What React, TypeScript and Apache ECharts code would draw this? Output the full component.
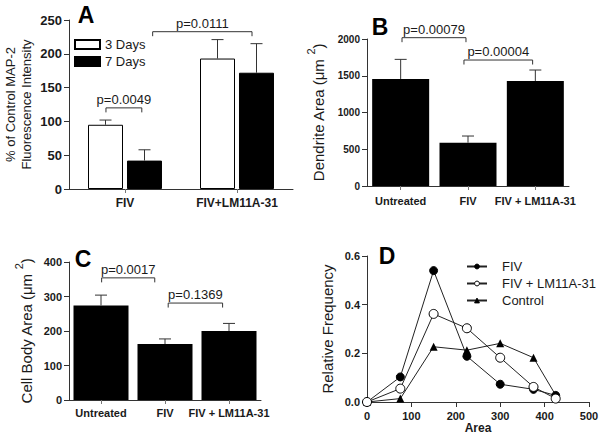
import React, { useEffect, useRef } from 'react';
import * as echarts from 'echarts';

const FONT = "'Liberation Sans', Arial, Helvetica, sans-serif";

// ---------- Panel A ----------
const categoriesA = ['FIV', 'FIV+LM11A-31'];
const days3 = [95, 193];
const days3Sem = [7, 28];
const days7 = [42, 172];
const days7Sem = [16, 43];
const yTicksA = [0, 50, 100, 150, 200, 250];
const pLabelsA = ['p=0.0049', 'p=0.0111'];

// ---------- Panel B ----------
const categoriesBC = ['Untreated', 'FIV', 'FIV + LM11A-31'];
const dendriteArea = [1456, 589, 1429];
const dendriteSem = [267, 91, 149];
const yTicksB = [0, 500, 1000, 1500, 2000];
const pLabelsB = ['p=0.00079', 'p=0.00004'];

// ---------- Panel C ----------
const cellBodyArea = [274, 162, 200];
const cellBodySem = [30, 15, 22];
const yTicksC = [0, 100, 200, 300, 400];
const pLabelsC = ['p=0.0017', 'p=0.1369'];

// ---------- Panel D ----------
const areaBins = [0, 75, 150, 225, 300, 375, 425];
const freqFIV = [0, 0.103, 0.54, 0.188, 0.073, 0.052, 0.027];
const freqFIVLM = [0, 0.055, 0.362, 0.303, 0.182, 0.062, 0.014];
const freqControl = [0, 0.014, 0.227, 0.213, 0.241, 0.182, 0.028];
const xTicksD = [0, 100, 200, 300, 400, 500];
const yTicksD = [0, 0.2, 0.4, 0.6];

// bracket geometry (fractional category positions, y in data units)
const bracketGeomA = [
  { x1: -0.17, x2: 0.15, y: 120 },
  { x1: 0.247, x2: 1.134, y: 232.7 },
];
const bracketGeomB = [
  { x1: 0.02, x2: 0.97, y: 2018 },
  { x1: 0.94, x2: 1.96, y: 1714 },
];
const bracketGeomC = [
  { x1: 0.01, x2: 0.84, y: 354 },
  { x1: 1.05, x2: 1.9, y: 281 },
];

const AXIS_COLOR = '#333';
const TEXT_COLOR = '#1a1a1a';

function valueAxis(gridIndex: number, ticks: number[], fontSize: number, formatter?: (v: number) => string) {
  return {
    type: 'value',
    gridIndex,
    min: ticks[0],
    max: ticks[ticks.length - 1],
    interval: ticks[1] - ticks[0],
    splitLine: { show: false },
    axisLine: { show: true, onZero: false, lineStyle: { color: AXIS_COLOR, width: 1 } },
    axisTick: { show: true, length: 5, lineStyle: { color: AXIS_COLOR, width: 1 } },
    axisLabel: {
      fontFamily: FONT,
      fontWeight: 'bold',
      fontSize,
      color: TEXT_COLOR,
      margin: 7,
      formatter: formatter || ((v: number) => String(v)),
    },
  };
}

function categoryAxis(gridIndex: number, data: string[], fontSize: number, margin: number) {
  return {
    type: 'category',
    gridIndex,
    data,
    boundaryGap: true,
    axisLine: { show: true, onZero: false, lineStyle: { color: AXIS_COLOR, width: 1 } },
    axisTick: { show: true, alignWithLabel: true, length: 4, lineStyle: { color: '#777', width: 1 } },
    axisLabel: { fontFamily: FONT, fontWeight: 'bold', fontSize, color: TEXT_COLOR, margin, interval: 0 },
    splitLine: { show: false },
  };
}

function errorBarSeries(axisIndex: number, values: number[], sems: number[], offset: number) {
  return {
    type: 'custom',
    xAxisIndex: axisIndex,
    yAxisIndex: axisIndex,
    clip: false,
    z: 4,
    silent: true,
    data: values.map((v, i) => [i, v, v + sems[i]]),
    encode: { x: 0, y: [1, 2] },
    renderItem: (params: any, api: any) => {
      const base = api.coord([api.value(0), api.value(1)]);
      const top = api.coord([api.value(0), api.value(2)]);
      const x = base[0] + offset;
      return {
        type: 'group',
        children: [
          { type: 'line', shape: { x1: x, y1: base[1], x2: x, y2: top[1] }, style: { stroke: '#333', lineWidth: 1 } },
          { type: 'line', shape: { x1: x - 6, y1: top[1], x2: x + 6, y2: top[1] }, style: { stroke: '#333', lineWidth: 1 } },
        ],
      };
    },
  };
}

function bracketSeries(axisIndex: number, geom: { x1: number; x2: number; y: number }[], labels: string[]) {
  return {
    type: 'custom',
    xAxisIndex: axisIndex,
    yAxisIndex: axisIndex,
    clip: false,
    z: 5,
    silent: true,
    data: geom.map((g) => [Math.round(g.x1), g.y]),
    renderItem: (params: any, api: any) => {
      const g = geom[params.dataIndex];
      const band = api.size([1, 0])[0];
      const i1 = Math.round(g.x1);
      const i2 = Math.round(g.x2);
      const p1 = api.coord([i1, g.y]);
      const p2 = api.coord([i2, g.y]);
      const xa = p1[0] + (g.x1 - i1) * band;
      const xb = p2[0] + (g.x2 - i2) * band;
      const y = p1[1];
      return {
        type: 'group',
        children: [
          {
            type: 'polyline',
            shape: { points: [[xa, y + 4.5], [xa, y], [xb, y], [xb, y + 4.5]] },
            style: { stroke: '#333', lineWidth: 1, fill: 'none' },
          },
          {
            type: 'text',
            x: (xa + xb) / 2,
            y: y - 2,
            style: {
              text: labels[params.dataIndex],
              fontFamily: FONT,
              fontSize: 13,
              fill: TEXT_COLOR,
              align: 'center',
              verticalAlign: 'bottom',
              textAlign: 'center',
              textVerticalAlign: 'bottom',
            },
          },
        ],
      };
    },
  };
}

function panelLetter(text: string, x: number, y: number) {
  return {
    type: 'text',
    x,
    y,
    style: {
      text,
      fontFamily: FONT,
      fontWeight: 'bold',
      fontSize: 23,
      fill: '#000',
      align: 'center',
      verticalAlign: 'middle',
      textAlign: 'center',
      textVerticalAlign: 'middle',
    },
  };
}

const supRich = (size: number) => ({
  a: { fontFamily: FONT, fontSize: size, lineHeight: 26, color: TEXT_COLOR },
  s: { fontFamily: FONT, fontSize: size - 4, lineHeight: 10, verticalAlign: 'top', color: TEXT_COLOR },
});

export default function App() {
  const ref = useRef<HTMLDivElement>(null);

  useEffect(() => {
    if (!ref.current) return;
    const chart = echarts.init(ref.current, undefined, { renderer: 'svg' });

    const grids = [
      { left: 69, top: 20, width: 224, height: 169 },
      { left: 367, top: 39, width: 202, height: 147 },
      { left: 69, top: 262, width: 192, height: 138 },
      { left: 367, top: 256, width: 222, height: 146 },
    ].map((g) => ({ ...g, containLabel: false, outerBoundsMode: 'none' }));

    const option: any = {
      animation: false,
      backgroundColor: '#fff',
      textStyle: { fontFamily: FONT },
      grid: grids,
      legend: [
        {
          orient: 'vertical',
          left: 74,
          top: 38,
          itemWidth: 25,
          itemHeight: 9,
          itemGap: 4,
          padding: 0,
          selectedMode: false,
          textStyle: { fontFamily: FONT, fontSize: 13, color: TEXT_COLOR },
          data: [
            { name: '3 Days', icon: 'rect' },
            { name: '7 Days', icon: 'rect' },
          ],
        },
        {
          orient: 'vertical',
          left: 466,
          top: 260,
          itemWidth: 20,
          itemHeight: 6,
          itemGap: 4,
          padding: 0,
          selectedMode: false,
          itemStyle: { borderWidth: 1 },
          textStyle: { fontFamily: FONT, fontSize: 13, color: TEXT_COLOR, padding: [0, 0, 0, 10] },
          data: ['FIV', 'FIV + LM11A-31', 'Control'],
        },
      ],
      xAxis: [
        categoryAxis(0, categoriesA, 12, 8),
        categoryAxis(1, categoriesBC, 11, 9),
        categoryAxis(2, categoriesBC, 11, 7),
        {
          type: 'value',
          gridIndex: 3,
          min: xTicksD[0],
          max: xTicksD[xTicksD.length - 1],
          interval: xTicksD[1] - xTicksD[0],
          splitLine: { show: false },
          axisLine: { show: true, onZero: false, lineStyle: { color: AXIS_COLOR, width: 1 } },
          axisTick: { show: true, length: 5, lineStyle: { color: AXIS_COLOR, width: 1 } },
          axisLabel: { fontFamily: FONT, fontWeight: 'bold', fontSize: 11, color: TEXT_COLOR, margin: 8 },
          name: 'Area',
          nameLocation: 'middle',
          nameGap: 16,
          nameTextStyle: { fontFamily: FONT, fontWeight: 'bold', fontSize: 12, color: TEXT_COLOR },
        },
      ],
      yAxis: [
        {
          ...valueAxis(0, yTicksA, 13),
          name: '% of Control MAP-2\nFluorescence Intensity',
          nameLocation: 'middle',
          nameRotate: 90,
          nameGap: 35,
          nameTextStyle: { fontFamily: FONT, fontSize: 13, lineHeight: 16, color: TEXT_COLOR },
        },
        {
          ...valueAxis(1, yTicksB, 10),
          name: '{a|Dendrite Area (μm }{s|2}{a|)}',
          nameLocation: 'middle',
          nameRotate: 90,
          nameGap: 36,
          nameTextStyle: { rich: supRich(15) },
        },
        {
          ...valueAxis(2, yTicksC, 11),
          name: '{a|Cell Body Area (μm }{s|2}{a|)}',
          nameLocation: 'middle',
          nameRotate: 90,
          nameGap: 30,
          nameTextStyle: { rich: supRich(15) },
        },
        {
          ...valueAxis(3, yTicksD, 11, (v: number) => v.toFixed(1)),
          name: 'Relative Frequency',
          nameLocation: 'middle',
          nameRotate: 90,
          nameGap: 32,
          nameTextStyle: { fontFamily: FONT, fontSize: 15, color: TEXT_COLOR },
        },
      ],
      series: [
        // Panel A
        {
          name: '3 Days',
          type: 'bar',
          xAxisIndex: 0,
          yAxisIndex: 0,
          data: days3,
          barWidth: 35,
          barGap: '11.4%',
          itemStyle: { color: '#fff', borderColor: '#000', borderWidth: 1 },
          z: 2,
        },
        {
          name: '7 Days',
          type: 'bar',
          xAxisIndex: 0,
          yAxisIndex: 0,
          data: days7,
          barWidth: 35,
          barGap: '11.4%',
          itemStyle: { color: '#000', borderColor: '#000', borderWidth: 1 },
          z: 2,
        },
        errorBarSeries(0, days3, days3Sem, -19.5),
        errorBarSeries(0, days7, days7Sem, 19.5),
        bracketSeries(0, bracketGeomA, pLabelsA),
        // Panel B
        {
          name: 'Dendrite Area',
          type: 'bar',
          xAxisIndex: 1,
          yAxisIndex: 1,
          data: dendriteArea,
          barWidth: 57,
          itemStyle: { color: '#000' },
          z: 2,
        },
        errorBarSeries(1, dendriteArea, dendriteSem, 0),
        bracketSeries(1, bracketGeomB, pLabelsB),
        // Panel C
        {
          name: 'Cell Body Area',
          type: 'bar',
          xAxisIndex: 2,
          yAxisIndex: 2,
          data: cellBodyArea,
          barWidth: 55,
          itemStyle: { color: '#000' },
          z: 2,
        },
        errorBarSeries(2, cellBodyArea, cellBodySem, 0),
        bracketSeries(2, bracketGeomC, pLabelsC),
        // Panel D
        {
          name: 'FIV',
          type: 'line',
          xAxisIndex: 3,
          yAxisIndex: 3,
          data: areaBins.map((x, i) => [x, freqFIV[i]]),
          symbol: 'circle',
          symbolSize: 8,
          itemStyle: { color: '#000', borderColor: '#000', borderWidth: 1 },
          lineStyle: { color: '#222', width: 1 },
          z: 3,
        },
        {
          name: 'FIV + LM11A-31',
          type: 'line',
          xAxisIndex: 3,
          yAxisIndex: 3,
          data: areaBins.map((x, i) => [x, freqFIVLM[i]]),
          symbol: 'circle',
          symbolSize: 9,
          itemStyle: { color: '#fff', borderColor: '#000', borderWidth: 1 },
          lineStyle: { color: '#222', width: 1 },
          z: 4,
        },
        {
          name: 'Control',
          type: 'line',
          xAxisIndex: 3,
          yAxisIndex: 3,
          data: areaBins.map((x, i) => [x, freqControl[i]]),
          symbol: 'triangle',
          symbolSize: 8,
          itemStyle: { color: '#000', borderColor: '#000', borderWidth: 0 },
          lineStyle: { color: '#222', width: 1 },
          z: 3,
        },
      ],
      graphic: [
        panelLetter('A', 86, 15),
        panelLetter('B', 380, 27),
        panelLetter('C', 83, 259),
        panelLetter('D', 387, 256),
      ],
    };

    chart.setOption(option);
    return () => {
      chart.dispose();
    };
  }, []);

  return (
    <div
      ref={ref}
      style={{ position: 'fixed', left: 0, top: 0, width: 602, height: 443, background: '#fff' }}
    />
  );
}
